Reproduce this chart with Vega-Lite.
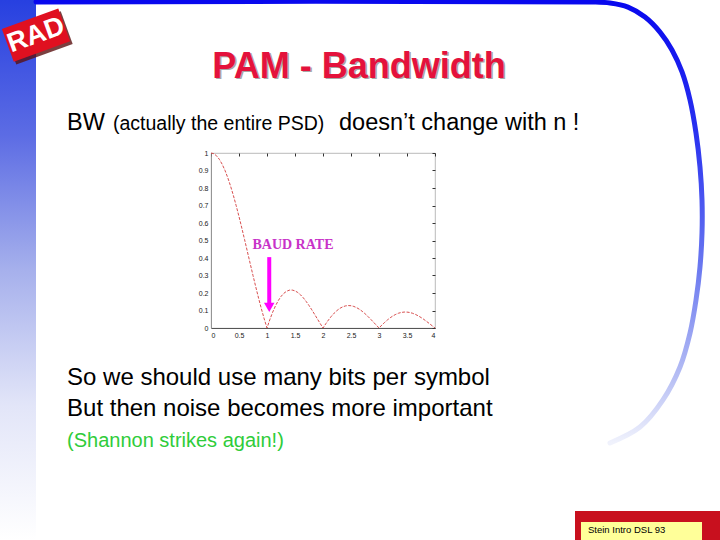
{
  "$schema": "https://vega.github.io/schema/vega-lite/v6.json",
  "width": 224,
  "height": 175,
  "autosize": {"type": "none"},
  "padding": {"left": 211, "top": 153, "right": 285, "bottom": 212},
  "background": "white",
  "config": {"view": {"stroke": "#a8a8a8", "strokeWidth": 0.8}, "font": "Liberation Sans"},
  "data": {"values": [{}]},
  "datasets": {
    "psd": [
      {"f": 0, "p": 1}, {"f": 0.05, "p": 0.9959}, {"f": 0.1, "p": 0.9836}, {"f": 0.15, "p": 0.9634}, {"f": 0.2, "p": 0.9355},
      {"f": 0.25, "p": 0.9003}, {"f": 0.3, "p": 0.8584}, {"f": 0.35, "p": 0.8103}, {"f": 0.4, "p": 0.7568}, {"f": 0.45, "p": 0.6986},
      {"f": 0.5, "p": 0.6366}, {"f": 0.55, "p": 0.5716}, {"f": 0.6, "p": 0.5046}, {"f": 0.65, "p": 0.4363}, {"f": 0.7, "p": 0.3679},
      {"f": 0.75, "p": 0.3001}, {"f": 0.8, "p": 0.2339}, {"f": 0.85, "p": 0.17}, {"f": 0.9, "p": 0.1093}, {"f": 0.95, "p": 0.0524},
      {"f": 1, "p": 0}, {"f": 1.05, "p": 0.0474}, {"f": 1.1, "p": 0.0894}, {"f": 1.15, "p": 0.1257}, {"f": 1.2, "p": 0.1559},
      {"f": 1.25, "p": 0.1801}, {"f": 1.3, "p": 0.1981}, {"f": 1.35, "p": 0.2101}, {"f": 1.4, "p": 0.2162}, {"f": 1.45, "p": 0.2168},
      {"f": 1.5, "p": 0.2122}, {"f": 1.55, "p": 0.2028}, {"f": 1.6, "p": 0.1892}, {"f": 1.65, "p": 0.1719}, {"f": 1.7, "p": 0.1515},
      {"f": 1.75, "p": 0.1286}, {"f": 1.8, "p": 0.1039}, {"f": 1.85, "p": 0.0781}, {"f": 1.9, "p": 0.0518}, {"f": 1.95, "p": 0.0255},
      {"f": 2, "p": 0}, {"f": 2.05, "p": 0.0243}, {"f": 2.1, "p": 0.0468}, {"f": 2.15, "p": 0.0672}, {"f": 2.2, "p": 0.085},
      {"f": 2.25, "p": 0.1}, {"f": 2.3, "p": 0.112}, {"f": 2.35, "p": 0.1207}, {"f": 2.4, "p": 0.1261}, {"f": 2.45, "p": 0.1283},
      {"f": 2.5, "p": 0.1273}, {"f": 2.55, "p": 0.1233}, {"f": 2.6, "p": 0.1164}, {"f": 2.65, "p": 0.107}, {"f": 2.7, "p": 0.0954},
      {"f": 2.75, "p": 0.0818}, {"f": 2.8, "p": 0.0668}, {"f": 2.85, "p": 0.0507}, {"f": 2.9, "p": 0.0339}, {"f": 2.95, "p": 0.0169},
      {"f": 3, "p": 0}, {"f": 3.05, "p": 0.0163}, {"f": 3.1, "p": 0.0317}, {"f": 3.15, "p": 0.0459}, {"f": 3.2, "p": 0.0585},
      {"f": 3.25, "p": 0.0693}, {"f": 3.3, "p": 0.078}, {"f": 3.35, "p": 0.0847}, {"f": 3.4, "p": 0.089}, {"f": 3.45, "p": 0.0911},
      {"f": 3.5, "p": 0.0909}, {"f": 3.55, "p": 0.0886}, {"f": 3.6, "p": 0.0841}, {"f": 3.65, "p": 0.0777}, {"f": 3.7, "p": 0.0696},
      {"f": 3.75, "p": 0.06}, {"f": 3.8, "p": 0.0492}, {"f": 3.85, "p": 0.0375}, {"f": 3.9, "p": 0.0252}, {"f": 3.95, "p": 0.0126},
      {"f": 4, "p": 0}
    ],
    "frame": [
      {"o": 0, "x": -3.125, "y": 1.863}, {"o": 1, "x": 6.768, "y": 1.863}, {"o": 2, "x": 7.125, "y": 1.857},
      {"o": 3, "x": 7.446, "y": 1.834}, {"o": 4, "x": 7.75, "y": 1.777}, {"o": 5, "x": 8.018, "y": 1.691},
      {"o": 6, "x": 8.232, "y": 1.589}, {"o": 7, "x": 8.411, "y": 1.463}, {"o": 8, "x": 8.554, "y": 1.303},
      {"o": 9, "x": 8.661, "y": 1.114}, {"o": 10, "x": 8.732, "y": 0.92}, {"o": 11, "x": 8.768, "y": 0.731},
      {"o": 12, "x": 8.768, "y": 0.543}, {"o": 13, "x": 8.732, "y": 0.349}, {"o": 14, "x": 8.661, "y": 0.16},
      {"o": 15, "x": 8.554, "y": -0.029}, {"o": 16, "x": 8.375, "y": -0.223}, {"o": 17, "x": 8.071, "y": -0.411},
      {"o": 18, "x": 7.661, "y": -0.566}, {"o": 19, "x": 7.125, "y": -0.657}
    ],
    "texts": [
      {"part": "title", "t": "PAM - Bandwidth", "x": 2.643, "y": 1.429},
      {"part": "big", "t": "BW", "x": -2.571, "y": 1.131},
      {"part": "paren", "t": "(actually the entire PSD)", "x": -1.75, "y": 1.131},
      {"part": "big", "t": "doesn’t change with n !", "x": 2.286, "y": 1.131},
      {"part": "body", "t": "So we should use many bits per symbol", "x": -2.571, "y": -0.328},
      {"part": "body", "t": "But then noise becomes more important", "x": -2.571, "y": -0.5},
      {"part": "green", "t": "(Shannon strikes again!)", "x": -2.571, "y": -0.68},
      {"part": "baud", "t": "BAUD RATE", "x": 0.74, "y": 0.449},
      {"part": "logo", "t": "RAD", "x": -3.125, "y": 1.674},
      {"part": "foot", "t": "Stein Intro DSL 93", "x": 6.732, "y": -1.171}
    ]
  },
  "resolve": {"axis": {"x": "independent", "y": "independent"}},
  "layer": [
    {
      "mark": {"type": "rect", "clip": false,
        "color": {"gradient": "linear", "x1": 0, "y1": 0, "x2": 0, "y2": 1,
          "stops": [{"offset": 0, "color": "#2740e0"}, {"offset": 0.25, "color": "#5c6ce4"}, {"offset": 0.5, "color": "#a6b0ec"},
            {"offset": 0.75, "color": "#e2e5f8"}, {"offset": 1, "color": "#ffffff"}]}},
      "encoding": {
        "x": {"datum": -3.768, "type": "quantitative", "axis": null},
        "x2": {"datum": -3.125},
        "y": {"datum": 1.874, "type": "quantitative", "axis": null},
        "y2": {"datum": -1.211}
      }
    },
    {
      "data": {"name": "frame"},
      "mark": {"type": "line", "clip": false, "strokeWidth": 5, "strokeCap": "round", "interpolate": "catmull-rom",
        "stroke": {"gradient": "linear", "x1": 0, "y1": 0, "x2": 0, "y2": 1,
          "stops": [{"offset": 0, "color": "#0808ee"}, {"offset": 0.3, "color": "#2a32f0"}, {"offset": 0.6, "color": "#6a78f0"},
            {"offset": 0.85, "color": "#b6bef4"}, {"offset": 1, "color": "#f0f2fc"}]}},
      "encoding": {
        "x": {"field": "x", "type": "quantitative", "axis": null},
        "y": {"field": "y", "type": "quantitative", "axis": null},
        "order": {"field": "o"}
      }
    },
    {
      "data": {"name": "psd"},
      "mark": {"type": "line", "color": "#d23a3a", "strokeWidth": 0.9, "strokeDash": [3, 1.5]},
      "encoding": {
        "x": {"field": "f", "type": "quantitative", "scale": {"domain": [0, 4], "nice": false, "zero": false},
          "axis": {"title": null, "values": [0, 0.5, 1, 1.5, 2, 2.5, 3, 3.5, 4], "format": "~g", "grid": false, "ticks": false,
            "labelFontSize": 7, "labelColor": "#222", "labelPadding": 3, "domainColor": "#555", "domainWidth": 1}},
        "y": {"field": "p", "type": "quantitative", "scale": {"domain": [0, 1], "nice": false, "zero": false},
          "axis": {"title": null, "values": [0, 0.1, 0.2, 0.3, 0.4, 0.5, 0.6, 0.7, 0.8, 0.9, 1], "format": "~g", "grid": false, "ticks": false,
            "labelFontSize": 7, "labelColor": "#222", "labelPadding": 3, "domainColor": "#888", "domainWidth": 0.8}}
      }
    },
    {
      "data": {"name": "psd"},
      "mark": {"type": "point", "opacity": 0},
      "encoding": {
        "x": {"field": "f", "type": "quantitative",
          "axis": {"orient": "top", "title": null, "labels": false, "domain": false, "grid": false, "tickSize": -3, "tickColor": "#333",
            "values": [0, 0.5, 1, 1.5, 2, 2.5, 3, 3.5, 4]}},
        "y": {"field": "p", "type": "quantitative",
          "axis": {"orient": "right", "title": null, "labels": false, "domain": false, "grid": false, "tickSize": -3, "tickColor": "#333",
            "values": [0, 0.1, 0.2, 0.3, 0.4, 0.5, 0.6, 0.7, 0.8, 0.9, 1]}}
      }
    },
    {
      "mark": {"type": "point", "clip": false, "filled": true, "color": "#5a1010", "opacity": 0.8, "size": 3600, "angle": -20,
        "shape": "M-1,-0.58L1,-0.58L1,0.58L-1,0.58Z"},
      "encoding": {"x": {"datum": -3.08, "type": "quantitative", "axis": null}, "y": {"datum": 1.658, "type": "quantitative", "axis": null}}
    },
    {
      "mark": {"type": "point", "clip": false, "filled": true, "color": "#e01020", "opacity": 1, "size": 3600, "angle": -20,
        "shape": "M-1,-0.58L1,-0.58L1,0.58L-1,0.58Z"},
      "encoding": {"x": {"datum": -3.125, "type": "quantitative", "axis": null}, "y": {"datum": 1.674, "type": "quantitative", "axis": null}}
    },
    {
      "data": {"name": "texts"},
      "transform": [{"filter": "datum.part === 'logo'"}],
      "mark": {"type": "text", "clip": false, "align": "center", "baseline": "middle", "angle": -20, "font": "Liberation Sans", "fontSize": 27, "fontWeight": "bold", "color": "white"},
      "encoding": {"x": {"field": "x", "type": "quantitative", "axis": null}, "y": {"field": "y", "type": "quantitative", "axis": null}, "text": {"field": "t"}}
    },
    {
      "data": {"name": "texts"},
      "transform": [{"filter": "datum.part === 'title'"}],
      "mark": {"type": "text", "clip": false, "align": "center", "baseline": "alphabetic", "dx": 1.5, "dy": 1.5, "font": "Liberation Sans", "fontSize": 36, "fontWeight": "bold", "color": "#a8a8a8"},
      "encoding": {"x": {"field": "x", "type": "quantitative", "axis": null}, "y": {"field": "y", "type": "quantitative", "axis": null}, "text": {"field": "t"}}
    },
    {
      "data": {"name": "texts"},
      "transform": [{"filter": "datum.part === 'title'"}],
      "mark": {"type": "text", "clip": false, "align": "center", "baseline": "alphabetic", "font": "Liberation Sans", "fontSize": 36, "fontWeight": "bold", "color": "#e4123c"},
      "encoding": {"x": {"field": "x", "type": "quantitative", "axis": null}, "y": {"field": "y", "type": "quantitative", "axis": null}, "text": {"field": "t"}}
    },
    {
      "data": {"name": "texts"},
      "transform": [{"filter": "datum.part === 'big'"}],
      "mark": {"type": "text", "clip": false, "align": "left", "baseline": "alphabetic", "font": "Liberation Sans", "fontSize": 23.5, "color": "black"},
      "encoding": {"x": {"field": "x", "type": "quantitative", "axis": null}, "y": {"field": "y", "type": "quantitative", "axis": null}, "text": {"field": "t"}}
    },
    {
      "data": {"name": "texts"},
      "transform": [{"filter": "datum.part === 'paren'"}],
      "mark": {"type": "text", "clip": false, "align": "left", "baseline": "alphabetic", "font": "Liberation Sans", "fontSize": 19.5, "color": "black"},
      "encoding": {"x": {"field": "x", "type": "quantitative", "axis": null}, "y": {"field": "y", "type": "quantitative", "axis": null}, "text": {"field": "t"}}
    },
    {
      "data": {"name": "texts"},
      "transform": [{"filter": "datum.part === 'body'"}],
      "mark": {"type": "text", "clip": false, "align": "left", "baseline": "alphabetic", "font": "Liberation Sans", "fontSize": 24, "color": "black"},
      "encoding": {"x": {"field": "x", "type": "quantitative", "axis": null}, "y": {"field": "y", "type": "quantitative", "axis": null}, "text": {"field": "t"}}
    },
    {
      "data": {"name": "texts"},
      "transform": [{"filter": "datum.part === 'green'"}],
      "mark": {"type": "text", "clip": false, "align": "left", "baseline": "alphabetic", "font": "Liberation Sans", "fontSize": 20, "color": "#2fcc3a"},
      "encoding": {"x": {"field": "x", "type": "quantitative", "axis": null}, "y": {"field": "y", "type": "quantitative", "axis": null}, "text": {"field": "t"}}
    },
    {
      "mark": {"type": "rect", "clip": false, "color": "#c8101e"},
      "encoding": {"x": {"datum": 6.5, "type": "quantitative", "axis": null}, "x2": {"datum": 9.2}, "y": {"datum": -1.046, "type": "quantitative", "axis": null}, "y2": {"datum": -1.25}}
    },
    {
      "mark": {"type": "rect", "clip": false, "color": "#ffff99"},
      "encoding": {"x": {"datum": 6.607, "type": "quantitative", "axis": null}, "x2": {"datum": 8.768}, "y": {"datum": -1.109, "type": "quantitative", "axis": null}, "y2": {"datum": -1.25}}
    },
    {
      "data": {"name": "texts"},
      "transform": [{"filter": "datum.part === 'foot'"}],
      "mark": {"type": "text", "clip": false, "align": "left", "baseline": "alphabetic", "font": "Liberation Sans", "fontSize": 9.5, "color": "black"},
      "encoding": {"x": {"field": "x", "type": "quantitative", "axis": null}, "y": {"field": "y", "type": "quantitative", "axis": null}, "text": {"field": "t"}}
    },
    {
      "mark": {"type": "rule", "color": "#ff00ff", "strokeWidth": 4},
      "encoding": {"x": {"datum": 1.04, "type": "quantitative", "axis": null}, "y": {"datum": 0.405, "type": "quantitative", "axis": null}, "y2": {"datum": 0.14}}
    },
    {
      "mark": {"type": "point", "shape": "triangle-down", "filled": true, "color": "#ff00ff", "opacity": 1, "size": 110},
      "encoding": {"x": {"datum": 1.04, "type": "quantitative", "axis": null}, "y": {"datum": 0.118, "type": "quantitative", "axis": null}}
    },
    {
      "data": {"name": "texts"},
      "transform": [{"filter": "datum.part === 'baud'"}],
      "mark": {"type": "text", "clip": false, "align": "left", "baseline": "alphabetic", "font": "Liberation Serif", "fontSize": 14, "fontWeight": "bold", "color": "#c832c8"},
      "encoding": {"x": {"field": "x", "type": "quantitative", "axis": null}, "y": {"field": "y", "type": "quantitative", "axis": null}, "text": {"field": "t"}}
    }
  ]
}
